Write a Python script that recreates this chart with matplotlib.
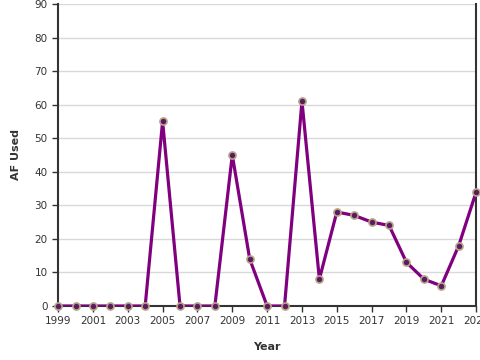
import matplotlib
matplotlib.use('Agg')
import matplotlib.pyplot as plt

years = list(range(1999, 2024))
af_used = [0, 0, 0, 0, 0, 0, 55, 0, 0, 0, 45, 14, 0, 0, 61, 8,
           28, 27, 25, 24, 13, 8, 6, 18, 34]
xticks = list(range(1999, 2024, 2))
yticks = list(range(0, 91, 10))

plt.rcParams['font.family'] = ['DejaVu Sans']
fig = plt.figure(figsize=(4.8, 3.6), dpi=100)
ax = fig.add_axes([0.121, 0.15, 0.871, 0.839])

ax.plot(years, af_used, color='#800080', lw=2.3, zorder=3)
ax.scatter(years, af_used, s=26, facecolor='#5e1a5e', edgecolor='#b5a58a',
           linewidths=1.2, zorder=4, clip_on=False)

ax.set_xlim(1999, 2023)
ax.set_ylim(0, 90)
ax.set_xticks(xticks)
ax.set_yticks(yticks)
ax.tick_params(labelsize=7.5, colors='#333333', length=4, width=1)
ax.grid(axis='y', color='#d9d9d9', lw=1)
ax.set_axisbelow(True)
for s in ['left', 'bottom', 'right']:
    ax.spines[s].set_color('#333333')
    ax.spines[s].set_linewidth(1.5)
ax.spines['top'].set_visible(False)

ax.set_xlabel('Year', fontsize=8, fontweight='bold', color='#333333', labelpad=11)
ax.set_ylabel('AF Used', fontsize=8, fontweight='bold', color='#333333', labelpad=10)

fig.savefig('out.png', dpi=100)
